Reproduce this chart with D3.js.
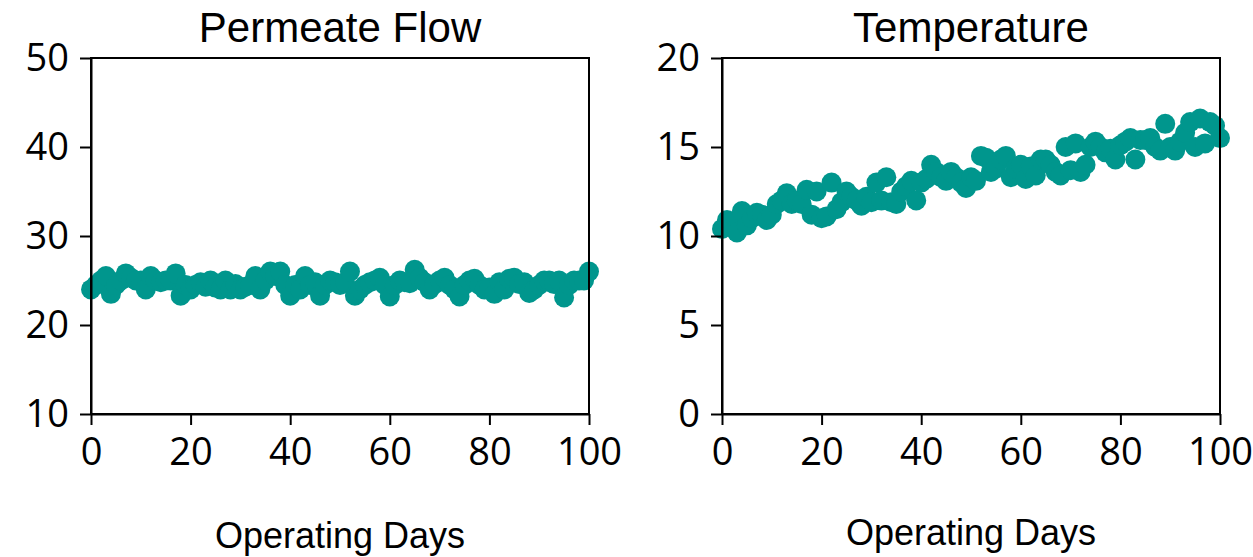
<!DOCTYPE html>
<html>
<head>
<meta charset="utf-8">
<script src="https://cdn.jsdelivr.net/npm/d3@7"></script>
<style>
  html, body { margin: 0; padding: 0; background: #fff; }
  svg { display: block; }
</style>
</head>
<body>
<svg id="chart" width="1253" height="557"></svg>
<script>
// ---- data ----
const days = d3.range(0, 101);

const permeateFlow = [
  24.0, 24.5, 25.0, 25.5, 23.5, 24.5, 25.0, 25.8, 25.3, 25.0,
  25.0, 24.0, 25.5, 25.0, 24.8, 25.0, 25.0, 25.8, 23.3, 24.5,
  24.0, 24.5, 24.8, 24.3, 25.0, 24.2, 24.0, 25.0, 24.0, 24.6,
  24.0, 24.3, 24.5, 25.5, 24.0, 25.0, 26.0, 25.5, 26.0, 24.5,
  23.3, 24.5, 24.0, 25.5, 24.5, 24.8, 23.3, 24.5, 25.0, 24.8,
  24.5, 24.8, 26.0, 23.3, 24.0, 24.5, 24.8, 25.0, 25.3, 24.5,
  23.2, 24.5, 25.0, 24.8, 24.7, 26.2, 25.3, 24.8, 24.0, 24.6,
  25.0, 25.3, 24.5, 24.0, 23.2, 24.5, 25.0, 25.2, 24.5, 24.0,
  24.2, 23.5, 24.8, 24.0, 25.2, 25.3, 24.6, 24.8, 23.6, 24.0,
  24.5, 25.0, 25.0, 24.6, 25.0, 23.1, 24.5, 25.0, 25.0, 25.0,
  26.0
];

const temperature = [
  10.4, 10.9, 10.8, 10.2, 11.4, 10.6, 11.0, 11.3, 11.2, 10.9,
  11.2, 11.8, 12.0, 12.4, 11.8, 12.0, 11.8, 12.6, 11.2, 12.5,
  11.0, 11.1, 13.0, 11.5, 11.9, 12.5, 12.2, 12.0, 11.7, 12.2,
  11.9, 13.0, 12.0, 13.3, 11.9, 11.8, 12.5, 12.8, 13.1, 12.0,
  13.0, 13.2, 14.0, 13.6, 13.3, 13.1, 13.6, 13.3, 13.0, 12.7,
  13.3, 13.1, 14.5, 14.4, 13.6, 13.8, 14.3, 14.5, 13.3, 13.8,
  14.0, 13.2, 13.9, 13.4, 14.3, 14.3, 14.0, 13.6, 13.4, 15.0,
  13.7, 15.2, 13.6, 14.0, 15.0, 15.3, 15.0, 14.7, 14.9, 14.3,
  15.1, 15.3, 15.5, 14.3, 15.4, 15.4, 15.5, 15.0, 14.8, 16.3,
  15.0, 14.8, 15.3, 15.8, 16.4, 15.0, 16.6, 15.2, 16.4, 16.2,
  15.5
];

const xTicks = [0, 20, 40, 60, 80, 100];
const flowTicks = [10, 20, 30, 40, 50];
const tempTicks = [0, 5, 10, 15, 20];
const titles = ["Permeate Flow", "Temperature"];
const xTitle = "Operating Days";

// ---- drawing ----
const svg = d3.select("#chart");
const color = "#00968d";
const tickFont = "'Open Sans', 'DejaVu Sans', sans-serif";
const titleFont = "'Liberation Sans', Arial, sans-serif";

const panels = [
  { title: titles[0], values: permeateFlow, domain: [10, 50], ticks: flowTicks,
    x0: 91, x1: 589, xTitleY: 548 },
  { title: titles[1], values: temperature, domain: [0, 20], ticks: tempTicks,
    x0: 722, x1: 1220, xTitleY: 545 }
];
const yTop = 58, yBot = 414;

panels.forEach(p => {
  const x = d3.scaleLinear().domain([0, 100]).range([p.x0, p.x1]);
  const y = d3.scaleLinear().domain(p.domain).range([yBot, yTop]);
  const g = svg.append("g");

  // points
  g.append("g").selectAll("circle")
    .data(days.map((d, i) => ({ d, v: p.values[i] })))
    .join("circle")
    .attr("cx", o => x(o.d))
    .attr("cy", o => y(o.v))
    .attr("r", 10)
    .attr("fill", color);

  // frame
  g.append("rect")
    .attr("x", x.range()[0]).attr("y", yTop)
    .attr("width", x.range()[1] - x.range()[0])
    .attr("height", yBot - yTop)
    .attr("fill", "none").attr("stroke", "#000").attr("stroke-width", 2);

  // x axis
  const xa = g.append("g").attr("transform", `translate(0,${yBot})`)
    .call(d3.axisBottom(x).tickValues(xTicks).tickSize(11).tickPadding(13).tickSizeOuter(0));
  // y axis
  const ya = g.append("g").attr("transform", `translate(${p.x0},0)`)
    .call(d3.axisLeft(y).tickValues(p.ticks).tickSize(11).tickPadding(11).tickSizeOuter(0));

  [xa, ya].forEach(a => {
    a.select(".domain").attr("stroke", "#000").attr("stroke-width", 2);
    a.selectAll(".tick line").attr("stroke", "#000").attr("stroke-width", 2);
    a.selectAll(".tick text")
      .attr("fill", "#000")
      .style("font-family", tickFont)
      .style("font-size", "38px");
  });

  // title
  g.append("text")
    .attr("x", (p.x0 + p.x1) / 2).attr("y", 42)
    .attr("text-anchor", "middle")
    .style("font-family", titleFont).style("font-size", "42px")
    .attr("fill", "#000")
    .text(p.title);

  // x title
  g.append("text")
    .attr("x", (p.x0 + p.x1) / 2).attr("y", p.xTitleY)
    .attr("text-anchor", "middle")
    .style("font-family", titleFont).style("font-size", "36px")
    .attr("fill", "#000")
    .text(xTitle);
});
</script>
</body>
</html>
